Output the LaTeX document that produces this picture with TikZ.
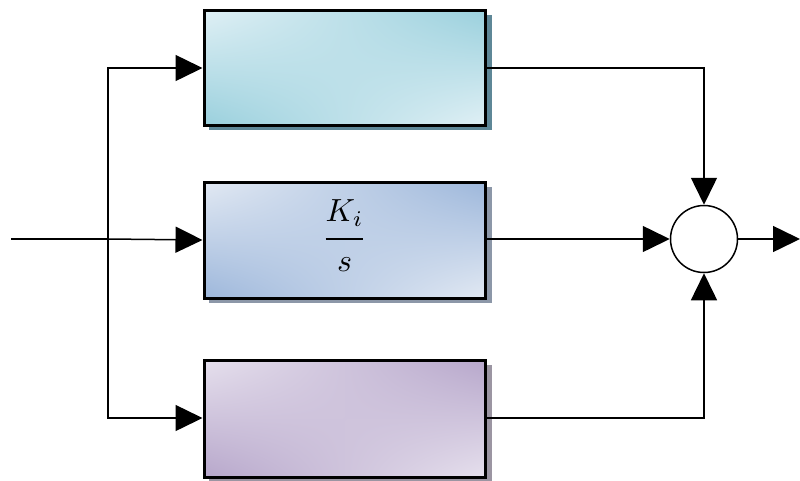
\documentclass[tikz,border=0pt]{standalone}
\usetikzlibrary{arrows.meta,shadings}
\definecolor{aDark}{HTML}{9AD0DD}
\definecolor{aLight}{HTML}{E0F0F5}
\definecolor{aShadow}{HTML}{5E8797}
\definecolor{bDark}{HTML}{9DB7DB}
\definecolor{bLight}{HTML}{E2E9F3}
\definecolor{bShadow}{HTML}{8C97A8}
\definecolor{cDark}{HTML}{B7A7CB}
\definecolor{cLight}{HTML}{E6E0ED}
\definecolor{cShadow}{HTML}{9B95A2}
\begin{document}
\begin{tikzpicture}[x=1pt,y=-1pt,
  conn/.style={line width=1.5pt},
  arr/.style={conn,-{Triangle[length=27pt,width=26pt]}},
  boxedge/.style={draw=black,line width=3pt},
  sumnode/.style={circle,draw=black,line width=1.5pt,fill=white,minimum size=67pt,inner sep=0pt}]
\useasboundingbox (0,0) rectangle (800,480);
% shadows
\fill[aShadow] (209,15) rectangle (492,130);
\fill[bShadow] (209,187) rectangle (492,303);
\fill[cShadow] (209,365) rectangle (492,481);
% shaded boxes
\shade[upper left=aLight,upper right=aDark,lower left=aDark,lower right=aLight] (204,10) rectangle (485,125);
\shade[upper left=bLight,upper right=bDark,lower left=bDark,lower right=bLight] (204,182) rectangle (485,298);
\shade[upper left=cLight,upper right=cDark,lower left=cDark,lower right=cLight] (204,360) rectangle (485,477);
\node[boxedge,minimum width=281pt,minimum height=115pt,inner sep=0pt] (b1) at (344.5,67.5) {};
\node[boxedge,minimum width=281pt,minimum height=116pt,inner sep=0pt] (b2) at (344.5,240) {};
\node[boxedge,minimum width=281pt,minimum height=117pt,inner sep=0pt] (b3) at (344.5,418.5) {};
\node[inner sep=0pt] (frac) at (344.5,235.5) {\scalebox{3.2}{$\displaystyle\frac{K_i\rule[-4pt]{0pt}{1pt}}{\rule{0pt}{8.6pt}s}$}};
\node[sumnode] (sum) at (704,239) {};
\coordinate (in) at (11,239);
\coordinate (split) at (108,239);
\coordinate (out) at (800,239);
\draw[conn] (in) -- (split);
\draw[arr] (split) -- (b2.west);
\draw[arr] (split) |- (b1.west |- 0,68);
\draw[arr] (split) |- (b3.west |- 0,418);
\draw[arr] (b1.east |- 0,68) -| (sum.north);
\draw[arr] (b3.east |- 0,418) -| (sum.south);
\draw[arr] (b2.east |- 0,239) -- (sum.west);
\draw[arr] (sum.east) -- (out);
\end{tikzpicture}
\end{document}
